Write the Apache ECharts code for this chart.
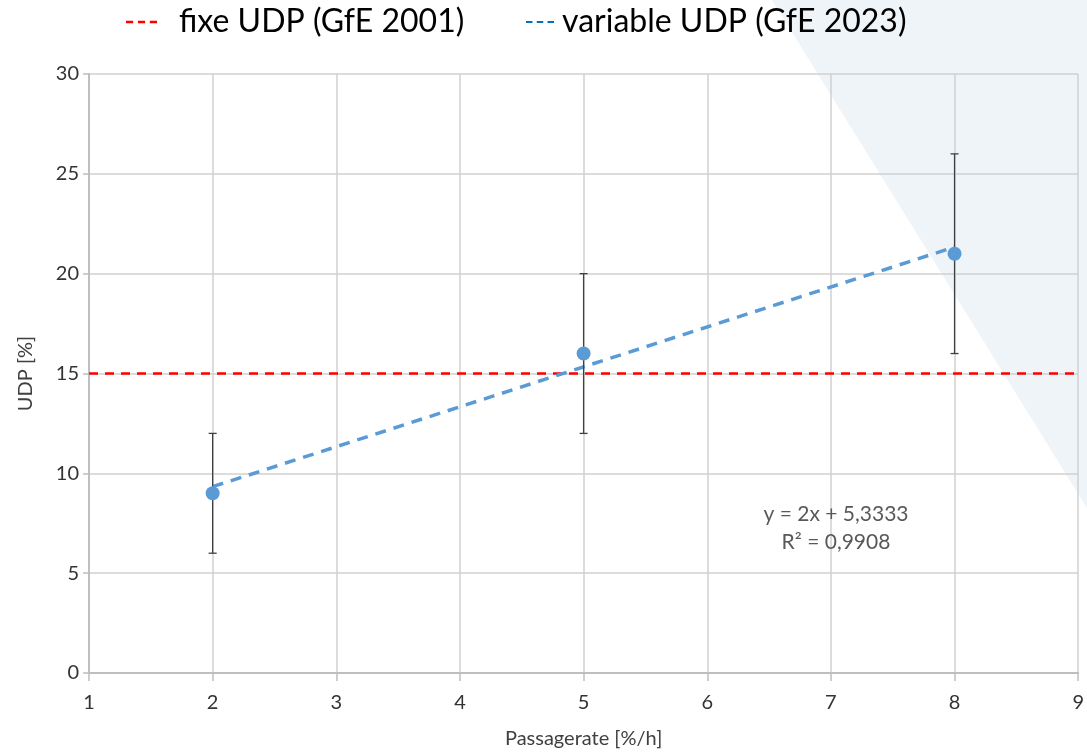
<!DOCTYPE html>
<html>
<head>
<meta charset="utf-8">
<script src="https://cdn.jsdelivr.net/npm/echarts@6/dist/echarts.min.js"></script>
<style>
html,body{margin:0;padding:0;background:#fff;}
#chart{width:1087px;height:754px;}
</style>
</head>
<body>
<div id="chart"></div>
<script>
// ---- data ----
const pointX = [2, 5, 8];
const pointY = [9, 16, 21];
const errLow = [6, 12, 16];
const errHigh = [12, 20, 26];
const trendX = [2, 8];
const trendY = [9.3333, 21.3333];
const fixedX = [1, 9];
const fixedY = [15, 15];
const xTicks = [1, 2, 3, 4, 5, 6, 7, 8, 9];
const yTicks = [0, 5, 10, 15, 20, 25, 30];
const legendNames = ['fixe UDP (GfE 2001)', 'variable UDP (GfE 2023)'];
const equationLines = ['y = 2x + 5,3333', 'R² = 0,9908'];

const FONT = 'Lato';
const dashIcon = 'path://M0,0h9v3h-9z M15,0h9v3h-9z M30,0h9v3h-9z';

const chart = echarts.init(document.getElementById('chart'), null, {renderer: 'canvas'});
const option = {
  backgroundColor: '#ffffff',
  animation: false,
  graphic: [
    {
      type: 'polygon', z: -10, silent: true,
      shape: {points: [[772, 0], [1087, 0], [1087, 508]]},
      style: {fill: '#EFF4F8'}
    },
    {
      type: 'text', x: 836, y: 514, z: 50,
      style: {text: equationLines[0], fill: '#595959', font: '21px ' + FONT, textAlign: 'center', textVerticalAlign: 'middle'}
    },
    {
      type: 'text', x: 836, y: 542, z: 50,
      style: {text: equationLines[1], fill: '#595959', font: '21px ' + FONT, textAlign: 'center', textVerticalAlign: 'middle'}
    }
  ],
  legend: [
    {
      left: 121, top: 1, itemWidth: 31, itemHeight: 3,
      icon: dashIcon,
      data: [{name: legendNames[0], itemStyle: {color: '#FF0000'}}],
      textStyle: {fontFamily: FONT, fontSize: 32, color: '#000', padding: [0, 0, 0, 17]}
    },
    {
      left: 521, top: 1, itemWidth: 28, itemHeight: 3,
      icon: dashIcon,
      data: [{name: legendNames[1], itemStyle: {color: '#0070C0'}}],
      textStyle: {fontFamily: FONT, fontSize: 32, color: '#000', padding: [0, 0, 0, 3]}
    }
  ],
  grid: {left: 89, right: 4, top: 74, bottom: 80},
  xAxis: {
    type: 'value', min: xTicks[0], max: xTicks[xTicks.length - 1], interval: 1,
    name: 'Passagerate [%/h]', nameLocation: 'middle', nameGap: 56,
    nameTextStyle: {fontFamily: FONT, fontSize: 20, color: '#404040'},
    axisLine: {lineStyle: {color: '#BFBFBF', width: 2}},
    axisTick: {show: true, length: 8, lineStyle: {color: '#BFBFBF', width: 1.5}},
    axisLabel: {fontFamily: FONT, fontSize: 20, color: '#333333', margin: 20},
    splitLine: {show: true, lineStyle: {color: '#D0D0D0', width: 1.5}}
  },
  yAxis: {
    type: 'value', min: yTicks[0], max: yTicks[yTicks.length - 1], interval: 5,
    name: 'UDP [%]', nameLocation: 'middle', nameGap: 53,
    nameTextStyle: {fontFamily: FONT, fontSize: 20, color: '#404040'},
    axisLine: {show: true, lineStyle: {color: '#BFBFBF', width: 2}},
    axisTick: {show: true, length: 6, lineStyle: {color: '#BFBFBF', width: 1.5}},
    axisLabel: {fontFamily: FONT, fontSize: 20, color: '#333333', margin: 10},
    splitLine: {show: true, lineStyle: {color: '#D0D0D0', width: 1.5}}
  },
  series: [
    {
      name: legendNames[0], type: 'line', z: 3,
      data: fixedX.map((x, i) => [x, fixedY[i]]),
      symbol: 'none',
      lineStyle: {color: '#FF0000', width: 2.5, type: [9, 7]},
      itemStyle: {color: '#FF0000'}
    },
    {
      name: legendNames[1], type: 'line', z: 4,
      data: trendX.map((x, i) => [x, trendY[i]]),
      symbol: 'none',
      lineStyle: {color: '#5B9BD5', width: 3.5, type: [11, 8]},
      itemStyle: {color: '#5B9BD5'}
    },
    {
      name: 'errors', type: 'custom', z: 5,
      data: pointX.map((x, i) => [x, errLow[i], errHigh[i]]),
      renderItem: function (params, api) {
        const x = api.value(0);
        const lo = api.coord([x, api.value(1)]);
        const hi = api.coord([x, api.value(2)]);
        const cap = 4;
        const st = {stroke: '#404040', lineWidth: 1.3};
        return {
          type: 'group',
          children: [
            {type: 'line', shape: {x1: lo[0], y1: lo[1], x2: hi[0], y2: hi[1]}, style: st},
            {type: 'line', shape: {x1: lo[0] - cap, y1: lo[1], x2: lo[0] + cap, y2: lo[1]}, style: st},
            {type: 'line', shape: {x1: hi[0] - cap, y1: hi[1], x2: hi[0] + cap, y2: hi[1]}, style: st}
          ]
        };
      }
    },
    {
      name: 'points', type: 'scatter', z: 6,
      data: pointX.map((x, i) => [x, pointY[i]]),
      symbolSize: 14,
      itemStyle: {color: '#5B9BD5', opacity: 1}
    }
  ]
};
chart.setOption(option);
</script>
</body>
</html>
